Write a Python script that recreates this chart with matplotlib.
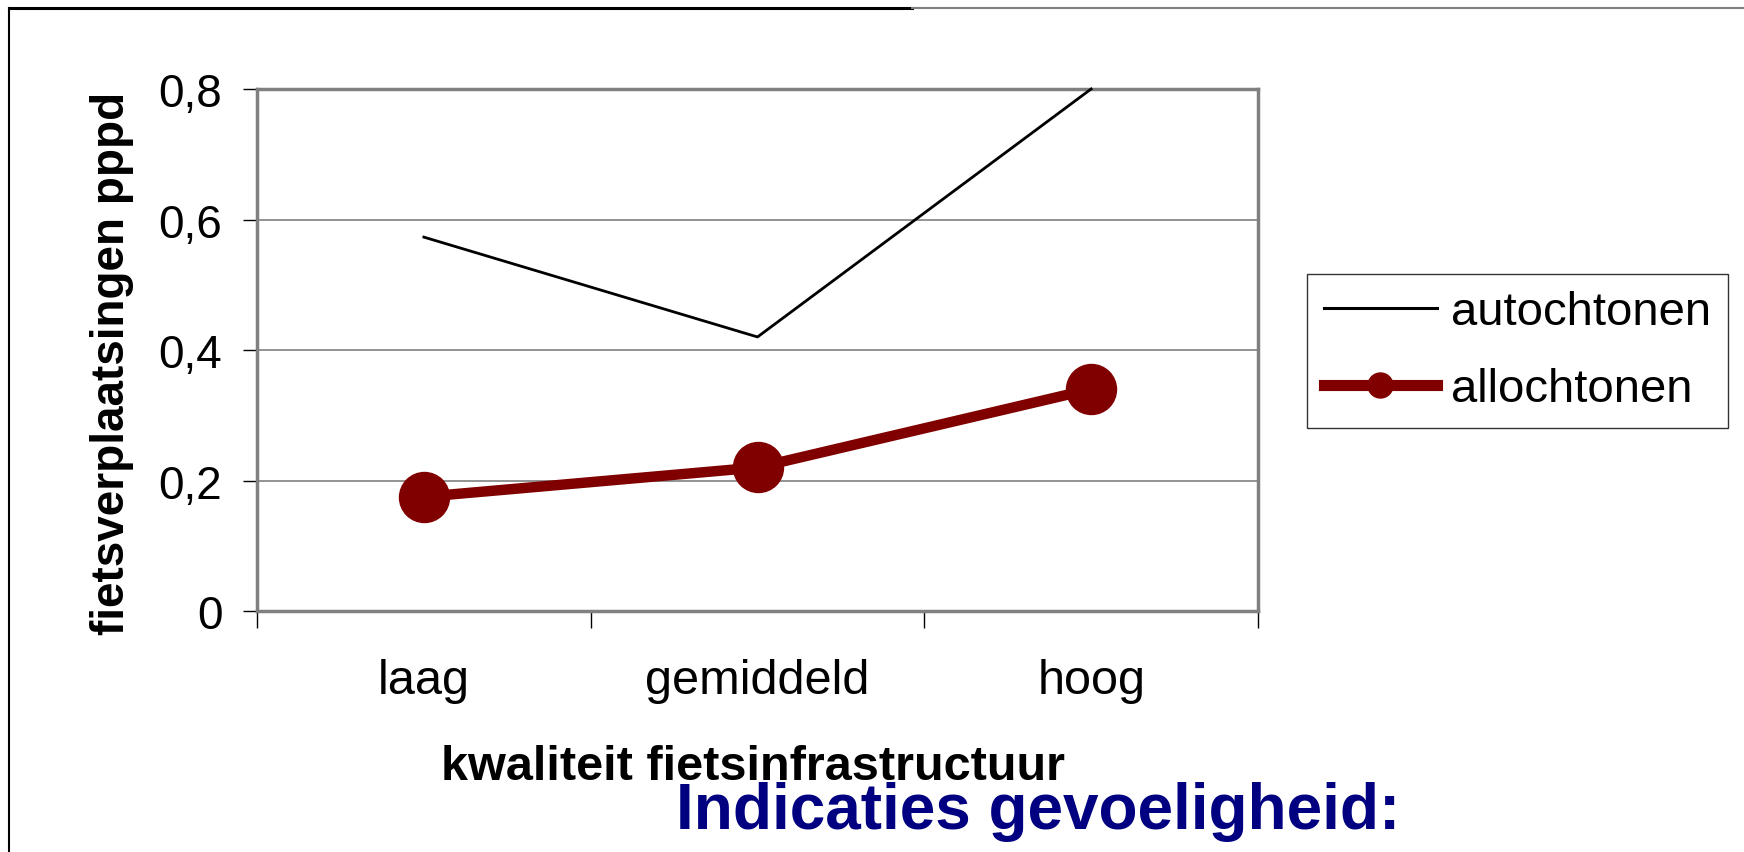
import matplotlib
matplotlib.use("Agg")
import matplotlib.pyplot as plt
from matplotlib.lines import Line2D
from matplotlib.ticker import FixedLocator

categories = ["laag", "gemiddeld", "hoog"]
autochtonen = [0.573, 0.42, 0.80]
allochtonen = [0.175, 0.22, 0.34]
yticks = [0, 0.2, 0.4, 0.6, 0.8]
ytick_labels = ["0", "0,2", "0,4", "0,6", "0,8"]

plt.rcParams['font.family'] = ['Liberation Sans', 'DejaVu Sans']

fig = plt.figure(figsize=(17.44, 8.53), dpi=100)
ax = fig.add_axes([0.1474, 0.2825, 0.5739, 0.612])

x = [i + 0.5 for i in range(len(categories))]
ax.plot(x, autochtonen, color="black", lw=2.0, label="autochtonen", clip_on=False, zorder=3)
ax.plot(x, allochtonen, color="#800000", lw=7.5, marker="o", markersize=36,
        label="allochtonen", zorder=4, clip_on=False)

ax.set_xlim(0, 3)
ax.set_ylim(0, 0.8)
ax.set_yticks(yticks)
ax.set_yticklabels(ytick_labels)
ax.set_xticks(x)
ax.set_xticklabels(categories)
ax.xaxis.set_minor_locator(FixedLocator([0, 1, 2, 3]))
ax.tick_params(axis="x", which="major", length=0, pad=34, labelsize=35)
ax.tick_params(axis="x", which="minor", length=12, width=1, color="black", direction="out")
ax.tick_params(axis="y", length=10, width=1, color="black", pad=15, labelsize=33)

for y in yticks[1:-1]:
    ax.axhline(y, color="#808080", lw=1.2, zorder=1)

for s in ax.spines.values():
    s.set_color("#808080")
    s.set_linewidth(2.5)

ax.set_ylabel("fietsverplaatsingen pppd", fontsize=33, fontweight="bold", labelpad=18)
ax.yaxis.label.set_y(0.477)

handles = [Line2D([], [], color="black", lw=2.2),
           Line2D([], [], color="#800000", lw=8, marker="o", markersize=18)]
leg = fig.legend(handles, ["autochtonen", "allochtonen"], loc="upper left",
                 bbox_to_anchor=(0.7495, 0.678), fontsize=34, frameon=True,
                 fancybox=False, handlelength=2.4, handletextpad=0.3,
                 borderpad=0.35, labelspacing=0.7, borderaxespad=0)
leg.get_frame().set_edgecolor("black")
leg.get_frame().set_linewidth(1.0)

fig.text(0.432, 0.1005, "kwaliteit fietsinfrastructuur", fontsize=35, fontweight="bold",
         ha="center", va="center")
fig.text(0.595, 0.048, "Indicaties gevoeligheid:", fontsize=46, fontweight="bold",
         color="#000080", ha="center", va="center")

# slide frame
fig.add_artist(Line2D([0.005, 0.005], [0, 0.9895], transform=fig.transFigure,
                      color="black", lw=1.5))
fig.add_artist(Line2D([0.005, 0.523], [0.9895, 0.9895], transform=fig.transFigure,
                      color="black", lw=2.2))
fig.add_artist(Line2D([0.523, 1.0], [0.9895, 0.9895], transform=fig.transFigure,
                      color="#808080", lw=1.5))

fig.savefig("out.png", dpi=100)
